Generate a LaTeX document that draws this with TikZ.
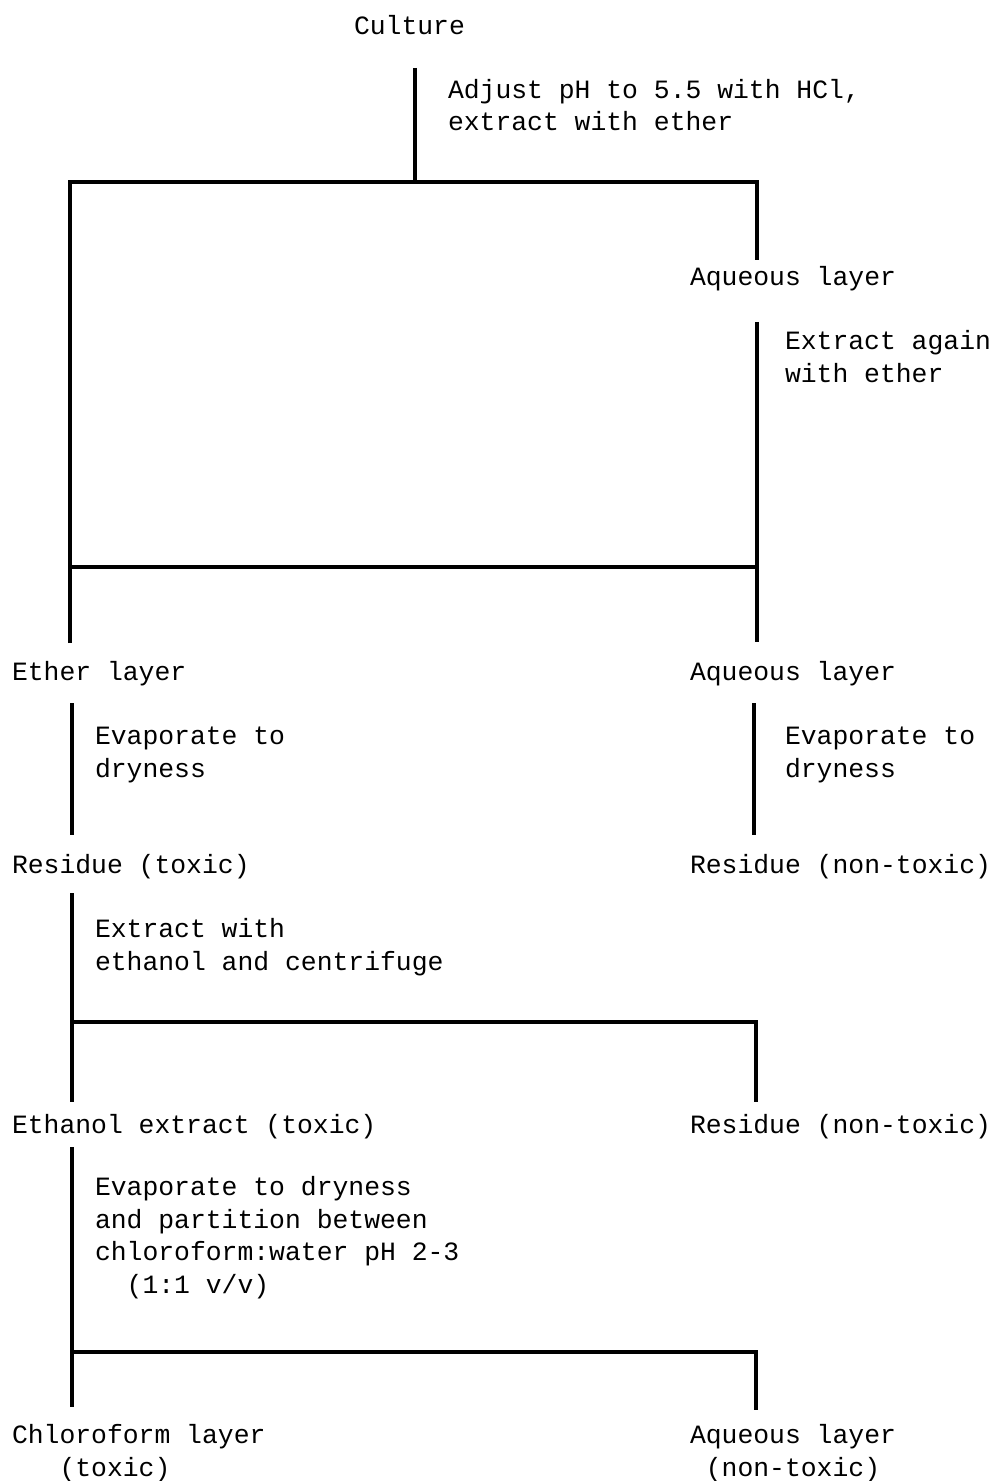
\documentclass[tikz,border=0pt]{standalone}
\usepackage{fontspec}
\setmonofont{Liberation Mono}
\begin{document}
\begin{tikzpicture}[x=0.5pt,y=-0.5pt,line width=2pt,
    lbl/.style={anchor=base west,inner sep=0,outer sep=0,align=left,
      font=\ttfamily\fontsize{13.2}{16.2}\selectfont}]
  \useasboundingbox (0,0) rectangle (998,1481);
  % labels (multi-line ones sit on their last baseline)
  \node[lbl] (culture) at (354,35) {Culture};
  \node[lbl] (adjust) at (448,131) {Adjust pH to 5.5 with HCl,\\extract with ether};
  \node[lbl] (aqA) at (690,286) {Aqueous layer};
  \node[lbl] (again) at (785,382) {Extract again\\with ether};
  \node[lbl] (ether) at (12,680) {Ether layer};
  \node[lbl] (aqB) at (690,680) {Aqueous layer};
  \node[lbl] (evapL) at (95,777) {Evaporate to\\dryness};
  \node[lbl] (evapR) at (785,777) {Evaporate to\\dryness};
  \node[lbl] (resT) at (12,873) {Residue (toxic)};
  \node[lbl] (resA) at (690,873) {Residue (non-toxic)};
  \node[lbl] (ethanol) at (95,970) {Extract with\\ethanol and centrifuge};
  \node[lbl] (ethx) at (12,1133) {Ethanol extract (toxic)};
  \node[lbl] (resB) at (690,1133) {Residue (non-toxic)};
  \node[lbl] (part) at (95,1293) {Evaporate to dryness\\and partition between\\chloroform:water pH 2-3\\\phantom{xx}(1:1 v/v)};
  \node[lbl] (chl) at (12,1476) {Chloroform layer\\\phantom{xxx}(toxic)};
  \node[lbl] (aqC) at (690,1476) {Aqueous layer\\\phantom{x}(non-toxic)};
  % branch points
  \coordinate (j1) at (415,182);
  \coordinate (j1L) at (70,182);
  \coordinate (j1R) at (757,182);
  \coordinate (j2L) at (70,567);
  \coordinate (j2R) at (757,567);
  \coordinate (j3L) at (72,1022);
  \coordinate (j3R) at (756,1022);
  \coordinate (j4L) at (72,1352);
  \coordinate (j4R) at (756,1352);
  % lines
  \draw (j1) ++(0,-114) -- (j1);
  \draw (j1L) ++(0,461) -- (j1L) -- (j1R) -- ++(0,78);
  \draw (j2R) ++(0,-245) -- ++(0,320);
  \draw (j2L) -- (j2R);
  \draw (72,703) -- (72,835);
  \draw (754,703) -- (754,835);
  \draw (j3L) ++(0,-129) -- ++(0,209);
  \draw (j3L) -- (j3R) -- ++(0,80);
  \draw (j4L) ++(0,-205) -- ++(0,260);
  \draw (j4L) -- (j4R) -- ++(0,58);
\end{tikzpicture}
\end{document}
